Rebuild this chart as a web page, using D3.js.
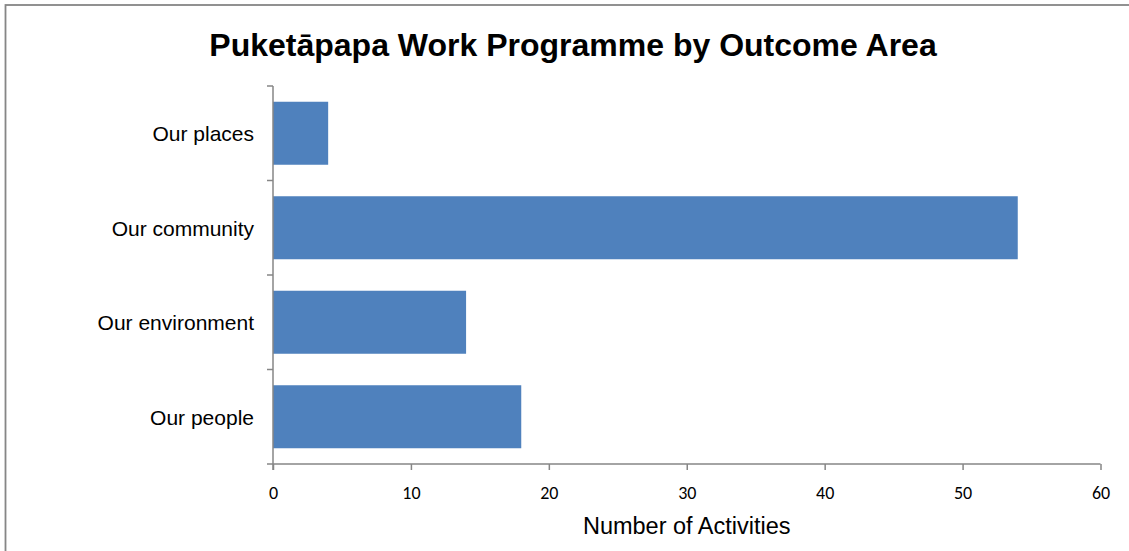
<!DOCTYPE html>
<html>
<head>
<meta charset="utf-8">
<script src="https://cdn.jsdelivr.net/npm/d3@7.9.0/dist/d3.min.js"></script>
<style>
  body { margin: 0; background: #fff; }
  svg { display: block; }
</style>
</head>
<body>
<svg id="chart" width="1129" height="551"></svg>
<script>
// data
const categories = ['Our places', 'Our community', 'Our environment', 'Our people'];
const activities = [4, 54, 14, 18];
const xTicks = [0, 10, 20, 30, 40, 50, 60];

const svg = d3.select('#chart');
const plotLeft = 273, plotRight = 1100.5, plotTop = 86, plotBottom = 464;
const axisColor = '#868686';

// outer chart border (runs past the window on right and bottom)
svg.append('rect')
  .attr('x', 5.5).attr('y', 5)
  .attr('width', 1300).attr('height', 700)
  .attr('fill', 'none')
  .attr('stroke', axisColor)
  .attr('stroke-width', 1.8);

svg.append('text')
  .attr('x', 573).attr('y', 56)
  .attr('text-anchor', 'middle')
  .attr('font-family', 'Arial, "Liberation Sans", sans-serif')
  .attr('font-weight', 'bold')
  .attr('font-size', 32)
  .text('Puketāpapa Work Programme by Outcome Area');

let x = d3.scaleLinear().domain([0, 60]).range([plotLeft, plotRight]);
let y = d3.scaleBand().domain(categories).range([plotTop, plotBottom])
  .paddingInner(1 / 3).paddingOuter(1 / 6);

// bars
svg.append('g')
  .selectAll('rect')
  .data(categories)
  .join('rect')
  .attr('x', x(0))
  .attr('y', (d) => y(d))
  .attr('width', (d, i) => x(activities[i]) - x(0))
  .attr('height', y.bandwidth())
  .attr('fill', '#4f81bd');

// x axis
let xAxis = svg.append('g')
  .attr('transform', `translate(0,${plotBottom})`)
  .call(d3.axisBottom(x).tickValues(xTicks).tickSize(6).tickSizeOuter(0).tickPadding(16));
xAxis.select('.domain').remove();
xAxis.append('line')
  .attr('x1', plotLeft - 6).attr('x2', plotRight)
  .attr('stroke', axisColor).attr('stroke-width', 1.5);
xAxis.selectAll('.tick line').attr('stroke', axisColor).attr('stroke-width', 1.5);
xAxis.selectAll('.tick text')
  .attr('fill', '#000')
  .attr('font-family', 'Carlito, Lato, "Open Sans", sans-serif')
  .attr('font-size', 18);

// y axis: labels from the band scale, ticks on band boundaries
let yAxis = svg.append('g')
  .attr('transform', `translate(${plotLeft},0)`)
  .call(d3.axisLeft(y).tickSize(0).tickPadding(19));
yAxis.select('.domain').remove();
yAxis.selectAll('.tick text')
  .attr('fill', '#000')
  .attr('dy', '0.38em')
  .attr('font-family', 'Arial, "Liberation Sans", sans-serif')
  .attr('font-size', 21);
yAxis.append('line')
  .attr('y1', plotTop).attr('y2', plotBottom + 6)
  .attr('stroke', axisColor).attr('stroke-width', 1.5);
let bounds = categories.map((d) => y(d) - y.step() * y.paddingInner() / 2);
yAxis.selectAll('.bound')
  .data(bounds)
  .join('line')
  .attr('class', 'bound')
  .attr('x1', -6).attr('x2', 0)
  .attr('y1', (d) => d).attr('y2', (d) => d)
  .attr('stroke', axisColor).attr('stroke-width', 1.5);

svg.append('text')
  .attr('x', (plotLeft + plotRight) / 2).attr('y', 534)
  .attr('text-anchor', 'middle')
  .attr('font-family', 'Arial, "Liberation Sans", sans-serif')
  .attr('font-size', 23.5)
  .text('Number of Activities');
</script>
</body>
</html>
